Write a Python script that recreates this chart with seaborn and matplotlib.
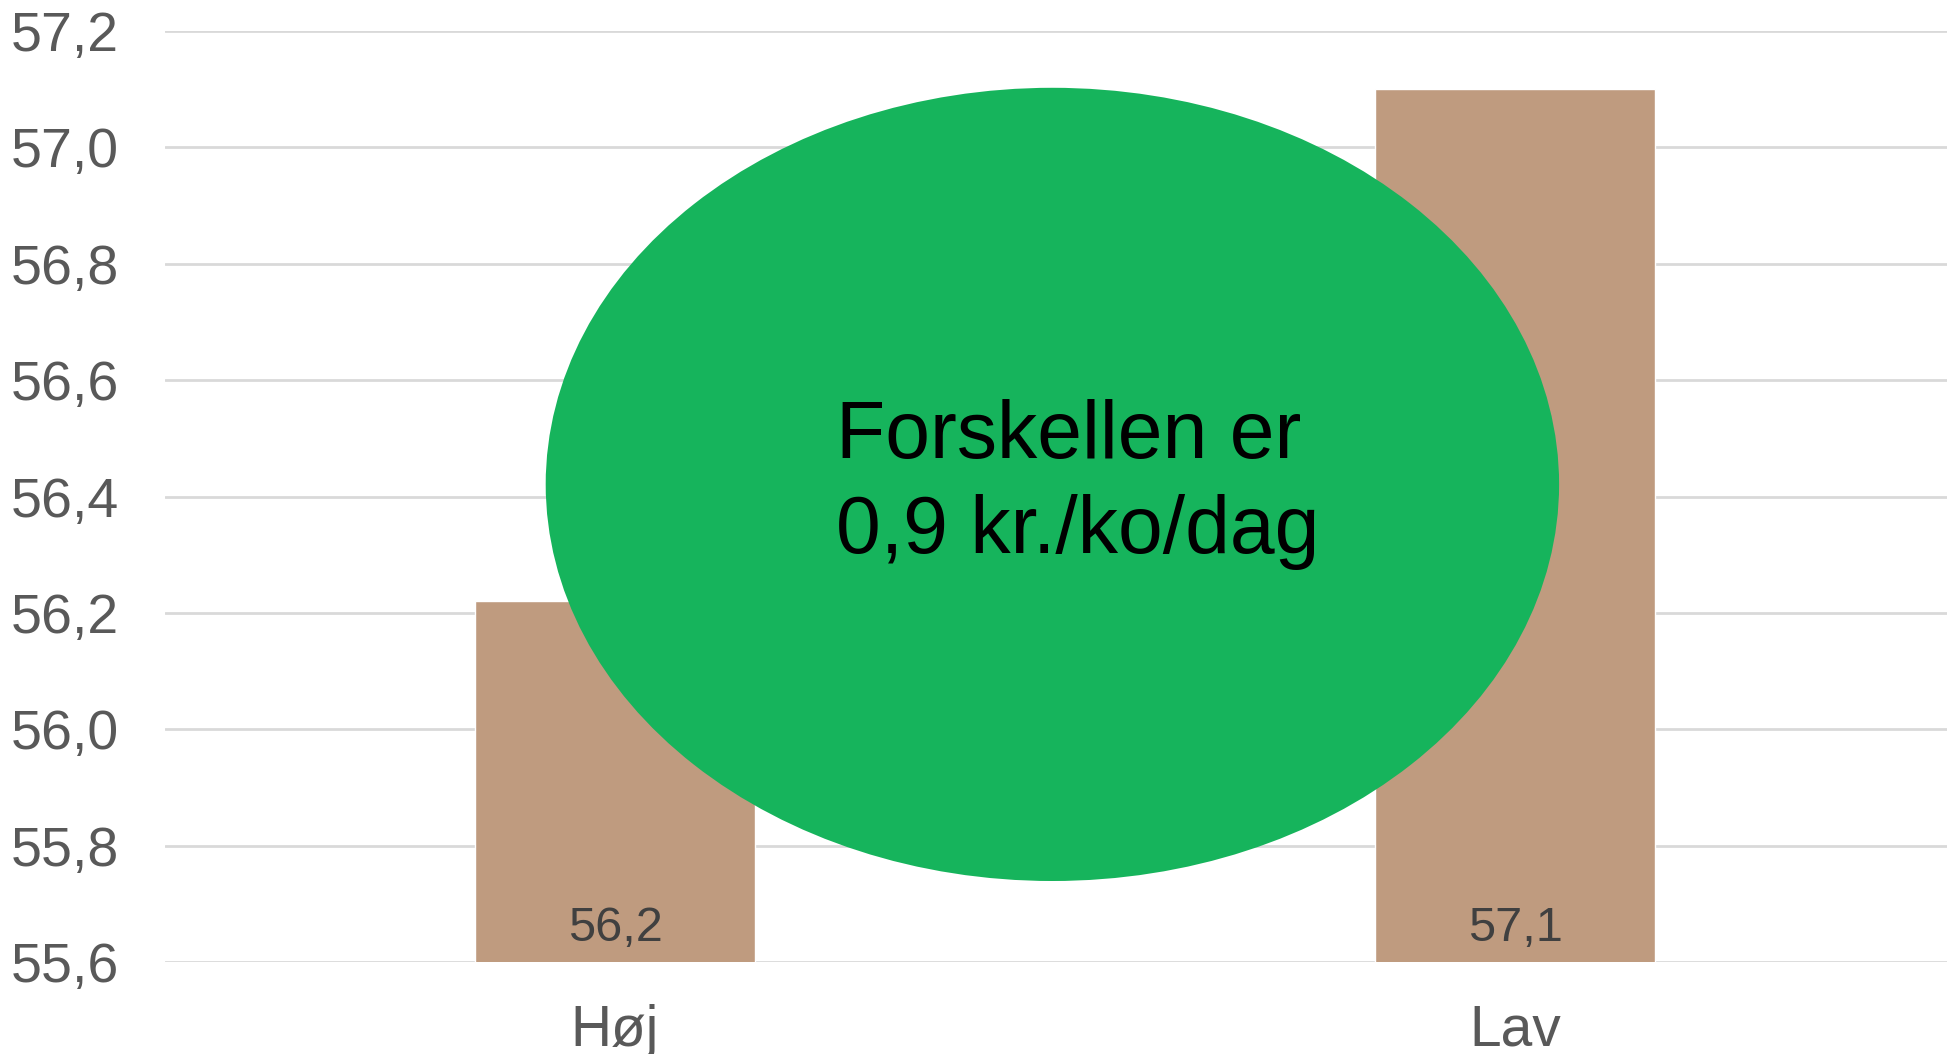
import matplotlib
matplotlib.use("Agg")
import matplotlib.pyplot as plt
import seaborn as sns
import pandas as pd
from matplotlib.patches import Ellipse
from matplotlib.ticker import FuncFormatter

# data
categories = ["Høj", "Lav"]
values = [56.22, 57.10]
value_labels = ["56,2", "57,1"]
y_ticks = [55.6, 55.8, 56.0, 56.2, 56.4, 56.6, 56.8, 57.0, 57.2]
note_text = "Forskellen er\n0,9 kr./ko/dag"

sns.set_style("white")
plt.rcParams['font.family'] = ['Liberation Sans', 'DejaVu Sans']

df = pd.DataFrame({"kategori": categories, "vaerdi": values})

fig = plt.figure(figsize=(19.47, 10.54), dpi=100)
# axes runs a bit past the right edge, like the original
ax = fig.add_axes([165 / 1947, 1 - 962 / 1054, 1800 / 1947, 931 / 1054])

sns.barplot(data=df, x="kategori", y="vaerdi", color="#BF9B7F", saturation=1,
            width=0.312, ax=ax, zorder=2)

ax.set_ylim(55.6, 57.2)
ax.set_yticks(y_ticks)
ax.yaxis.set_major_formatter(FuncFormatter(lambda v, p: f"{v:.1f}".replace(".", ",")))
ax.grid(axis="y", color="#D9D9D9", linewidth=2, zorder=0)
ax.set_axisbelow(True)
for s in ax.spines.values():
    s.set_visible(False)
ax.tick_params(axis="y", length=0, pad=33, labelsize=40, labelcolor="#595959")
ax.tick_params(axis="x", length=0, pad=30, labelsize=41, labelcolor="#595959")
ax.set_xlabel("")
ax.set_ylabel("")

# value labels at bottom of bars
for i, lab in enumerate(value_labels):
    ax.annotate(lab, xy=(i, 55.6), xytext=(0, 8), textcoords="offset points",
                ha="center", va="bottom", fontsize=35, color="#404040", zorder=3)

# green ellipse with note
ell = Ellipse((0.493, 0.513), 0.563, 0.852, transform=ax.transAxes,
              facecolor="#16B45C", edgecolor="none", zorder=4, clip_on=False)
ax.add_patch(ell)
ax.text(0.507, 0.513, note_text, transform=ax.transAxes, ha="center", va="center",
        multialignment="left", fontsize=58, color="black", linespacing=1.33, zorder=5)

fig.savefig("out.png", dpi=100)
